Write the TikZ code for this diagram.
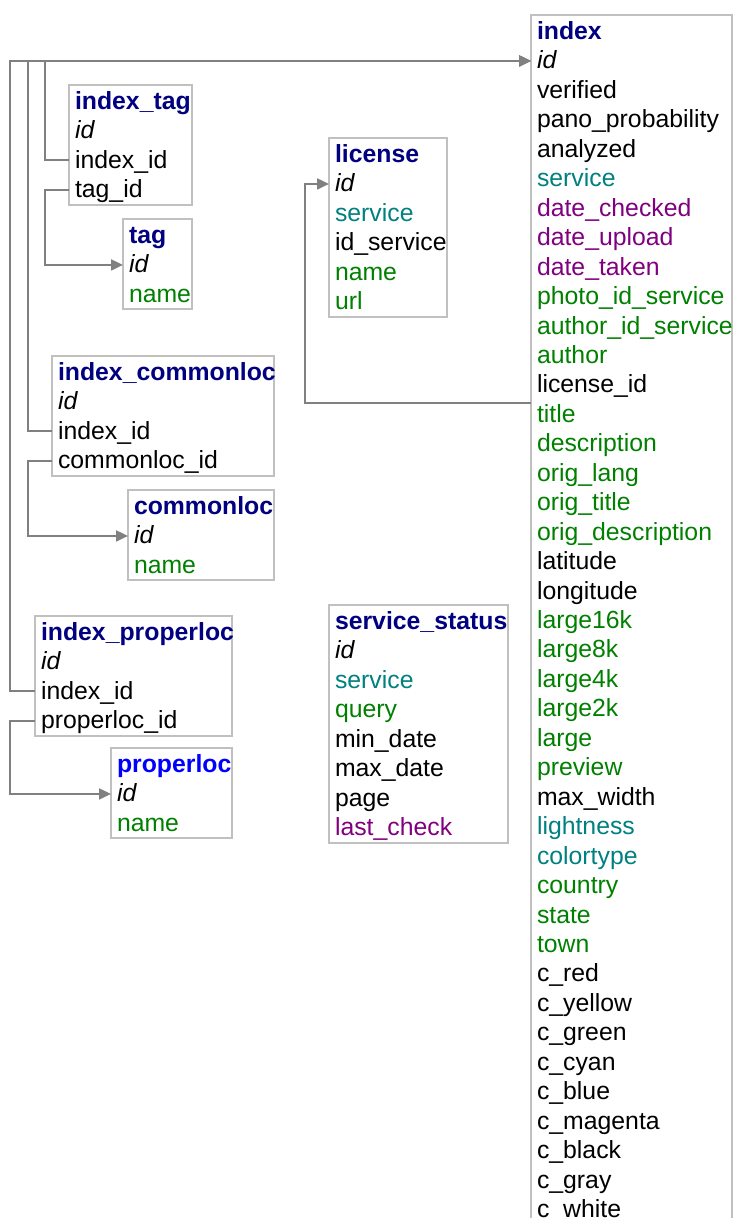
\documentclass[tikz,border=0pt]{standalone}
\usepackage{fontspec}
\setmainfont{Liberation Sans}
\usetikzlibrary{arrows.meta}

\definecolor{dbnavy}{RGB}{0,0,128}
\definecolor{dbblue}{RGB}{0,0,255}
\definecolor{dbteal}{RGB}{0,128,128}
\definecolor{dbpurple}{RGB}{128,0,128}
\definecolor{dbgreen}{RGB}{0,128,0}
\definecolor{dbline}{RGB}{128,128,128}
\definecolor{dbframe}{RGB}{192,192,192}

\tikzset{
	tablebox/.style={draw=dbframe,line width=2pt,inner sep=0,outer sep=0,anchor=north west},
	field/.style={anchor=base west,inner xsep=6pt,inner ysep=0,outer sep=0,text height=18.5pt,text depth=2.5pt,font=\fontsize{24.8pt}{29.45pt}\selectfont},
	head/.style={field,font=\fontsize{24.8pt}{29.45pt}\selectfont\bfseries,text=dbnavy},
	fid/.style={font=\fontsize{24.8pt}{29.45pt}\selectfont\itshape},
	fblack/.style={text=black},
	fteal/.style={text=dbteal},
	fpurple/.style={text=dbpurple},
	fgreen/.style={text=dbgreen},
	fk/.style={draw=dbline,line width=2pt,-{Triangle[length=12pt,width=11pt]},fill=none}
}

% #1 prefix, #2 left edge, #3 baseline of the header, #4 field/style list
\newcommand{\dbfields}[4]{%
	\foreach \f/\c [count=\k] in {#4} {
		\node[field,\c] (#1-\f) at (#2,#3+29.45*\k) {\expandafter\detokenize\expandafter{\f}};
	}%
}

\begin{document}
\begin{tikzpicture}[x=1pt,y=-1pt]
	\clip (0,0) rectangle (735,1218);

	% frames
	\node[tablebox,minimum width=201pt,minimum height=1240pt] (idx) at (531,15) {};
	\node[tablebox,minimum width=123pt,minimum height=120pt] (itag) at (69,85) {};
	\node[tablebox,minimum width=69pt,minimum height=90.4pt] (tag) at (123,219) {};
	\node[tablebox,minimum width=118pt,minimum height=178.75pt] (lic) at (329,138) {};
	\node[tablebox,minimum width=222pt,minimum height=120pt] (icl) at (52,356) {};
	\node[tablebox,minimum width=146pt,minimum height=90.4pt] (cl) at (128,490) {};
	\node[tablebox,minimum width=197pt,minimum height=120pt] (ipl) at (35,616) {};
	\node[tablebox,minimum width=121pt,minimum height=90.4pt] (pl) at (111,748) {};
	\node[tablebox,minimum width=179pt,minimum height=237.65pt] (sst) at (329,605) {};

	% headers
	\node[head] (idx-head) at (531,39.5) {index};
	\node[head] (itag-head) at (69,109.5) {index\_tag};
	\node[head] (tag-head) at (123,243.5) {tag};
	\node[head] (lic-head) at (329,162.5) {license};
	\node[head] (icl-head) at (52,380.5) {index\_commonloc};
	\node[head] (cl-head) at (128,514.5) {commonloc};
	\node[head] (ipl-head) at (35,640.5) {index\_properloc};
	\node[head,text=dbblue] (pl-head) at (111,772.5) {properloc};
	\node[head] (sst-head) at (329,629.5) {service\_status};

	% fields
	\dbfields{idx}{531}{39.5}{id/fid, verified/fblack, pano_probability/fblack, analyzed/fblack,
		service/fteal, date_checked/fpurple, date_upload/fpurple, date_taken/fpurple,
		photo_id_service/fgreen, author_id_service/fgreen, author/fgreen, license_id/fblack,
		title/fgreen, description/fgreen, orig_lang/fgreen, orig_title/fgreen,
		orig_description/fgreen, latitude/fblack, longitude/fblack, large16k/fgreen,
		large8k/fgreen, large4k/fgreen, large2k/fgreen, large/fgreen, preview/fgreen,
		max_width/fblack, lightness/fteal, colortype/fteal, country/fgreen, state/fgreen,
		town/fgreen, c_red/fblack, c_yellow/fblack, c_green/fblack, c_cyan/fblack,
		c_blue/fblack, c_magenta/fblack, c_black/fblack, c_gray/fblack, c_white/fblack}
	\dbfields{itag}{69}{109.5}{id/fid, index_id/fblack, tag_id/fblack}
	\dbfields{tag}{123}{243.5}{id/fid, name/fgreen}
	\dbfields{lic}{329}{162.5}{id/fid, service/fteal, id_service/fblack, name/fgreen, url/fgreen}
	\dbfields{icl}{52}{380.5}{id/fid, index_id/fblack, commonloc_id/fblack}
	\dbfields{cl}{128}{514.5}{id/fid, name/fgreen}
	\dbfields{ipl}{35}{640.5}{id/fid, index_id/fblack, properloc_id/fblack}
	\dbfields{pl}{111}{772.5}{id/fid, name/fgreen}
	\dbfields{sst}{329}{629.5}{id/fid, service/fteal, query/fgreen, min_date/fblack,
		max_date/fblack, page/fblack, last_check/fpurple}

	% foreign keys
	\draw[fk] (itag-index_id.west) -- ++(-24,0) |- (idx-id.west);
	\draw[fk] (icl-index_id.west) -- ++(-24,0) |- (idx-id.west);
	\draw[fk] (ipl-index_id.west) -- ++(-25,0) |- (idx-id.west);
	\draw[fk] (itag-tag_id.west) -- ++(-24,0) |- (tag-id.west);
	\draw[fk] (icl-commonloc_id.west) -- ++(-24,0) |- (cl-id.west);
	\draw[fk] (ipl-properloc_id.west) -- ++(-25,0) |- (pl-id.west);
	\draw[fk] ([yshift=-18pt]idx-license_id.west) -- ++(-226,0) |- (lic-id.west);
\end{tikzpicture}
\end{document}
